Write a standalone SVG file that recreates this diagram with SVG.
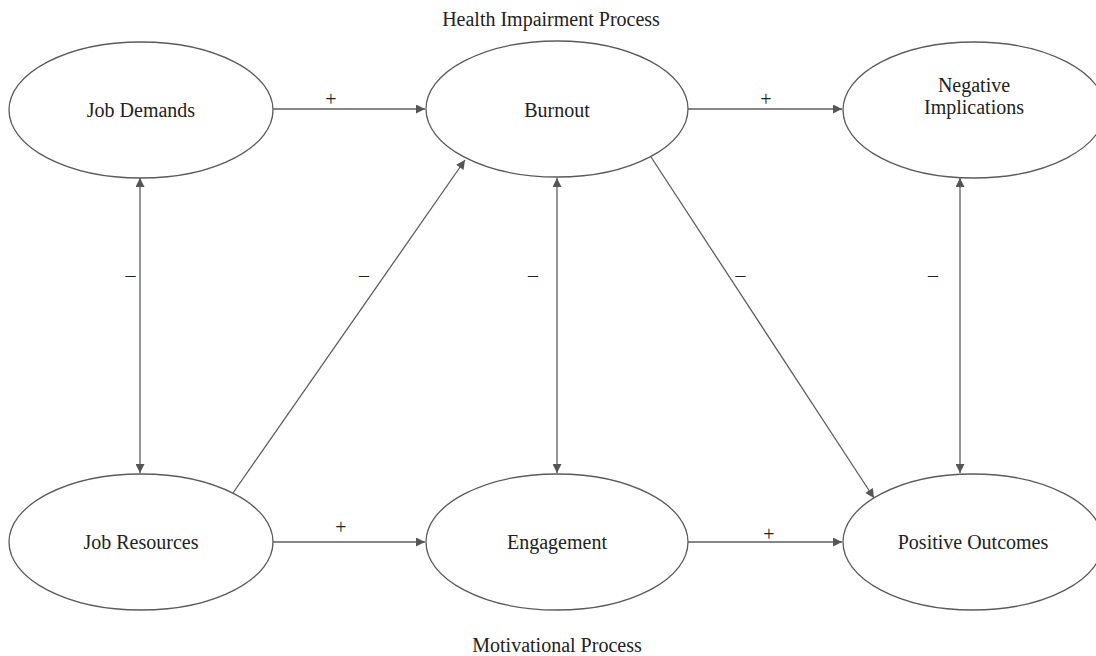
<svg xmlns="http://www.w3.org/2000/svg" width="1096" height="656" viewBox="0 0 1096 656">
<style>
.node ellipse{fill:#fff;stroke:#5a5a5a;stroke-width:1.3}
text{font-family:"Liberation Serif","Times New Roman",serif;fill:#222}
.nt{font-size:20px;text-anchor:middle}
.lbl{font-size:20px;text-anchor:middle}
.conn line{stroke:#5e5e5e;stroke-width:1.3;fill:none}
</style>
<defs>
<marker id="arr" viewBox="0 0 10 10" refX="10" refY="5" markerWidth="11" markerHeight="9" markerUnits="userSpaceOnUse" orient="auto-start-reverse">
<path d="M0,0 L10,5 L0,10 Z" fill="#555"/>
</marker>
</defs>
<rect width="1096" height="656" fill="#fff"/>
<text class="nt" x="551" y="26">Health Impairment Process</text>
<text class="nt" x="557" y="652">Motivational Process</text>
<g class="conn">
<line x1="273" y1="109" x2="425" y2="109" marker-end="url(#arr)"/>
<line x1="688" y1="109" x2="842" y2="109" marker-end="url(#arr)"/>
<line x1="140" y1="178" x2="140" y2="473" marker-start="url(#arr)" marker-end="url(#arr)"/>
<line x1="233" y1="493" x2="465" y2="160" marker-end="url(#arr)"/>
<line x1="557" y1="178" x2="557" y2="473" marker-start="url(#arr)" marker-end="url(#arr)"/>
<line x1="651" y1="157" x2="874" y2="498" marker-end="url(#arr)"/>
<line x1="960" y1="178" x2="960" y2="473" marker-start="url(#arr)" marker-end="url(#arr)"/>
<line x1="273" y1="542" x2="425" y2="542" marker-end="url(#arr)"/>
<line x1="688" y1="542" x2="842" y2="542" marker-end="url(#arr)"/>
<text class="lbl" x="331" y="106">+</text>
<text class="lbl" x="766" y="106">+</text>
<text class="lbl" x="130.5" y="282">–</text>
<text class="lbl" x="364" y="282">–</text>
<text class="lbl" x="533" y="282">–</text>
<text class="lbl" x="740.5" y="282">–</text>
<text class="lbl" x="933" y="282">–</text>
<text class="lbl" x="341" y="534">+</text>
<text class="lbl" x="769" y="541">+</text>
</g>
<g id="job-demands" class="node"><ellipse cx="141" cy="110" rx="132" ry="68"/><text class="nt" x="141" y="117">Job Demands</text></g>
<g id="burnout" class="node"><ellipse cx="557" cy="109" rx="131" ry="68"/><text class="nt" x="557" y="117">Burnout</text></g>
<g id="negative-implications" class="node"><ellipse cx="974" cy="110" rx="131" ry="68"/><text class="nt" x="974" y="92">Negative</text><text class="nt" x="974" y="114">Implications</text></g>
<g id="job-resources" class="node"><ellipse cx="141" cy="542" rx="132" ry="68"/><text class="nt" x="141" y="549">Job Resources</text></g>
<g id="engagement" class="node"><ellipse cx="557" cy="542" rx="131" ry="68"/><text class="nt" x="557" y="549">Engagement</text></g>
<g id="positive-outcomes" class="node"><ellipse cx="973" cy="542" rx="130" ry="68"/><text class="nt" x="973" y="549">Positive Outcomes</text></g>
</svg>
